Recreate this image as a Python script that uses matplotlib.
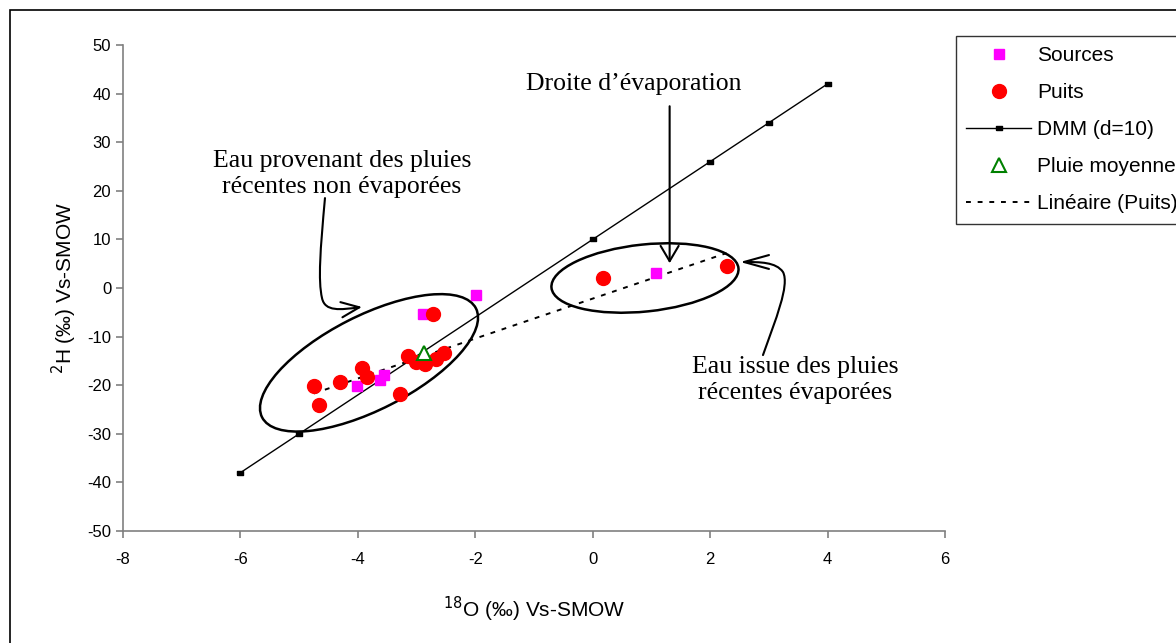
import numpy as np
import matplotlib.pyplot as plt
import matplotlib.transforms as mtransforms
from matplotlib.patches import Ellipse, FancyArrowPatch, Rectangle
from matplotlib.path import Path
from matplotlib.lines import Line2D

# --- donnees ---
src_x = [-1.99, -2.89, -4.02, -3.62, -3.55, 1.07]
src_y = [-1.4, -5.4, -20.2, -18.9, -18.0, 3.1]

puits_x = [-2.72, -4.75, -4.67, -4.30, -3.93, -3.84, -3.29, -3.15, -3.01, -2.86, -2.67, -2.53, 0.17, 2.28]
puits_y = [-5.4, -20.2, -24.1, -19.3, -16.5, -18.4, -21.8, -14.0, -15.2, -15.6, -14.7, -13.3, 2.0, 4.6]

pluie_x = [-2.88]
pluie_y = [-13.3]

dmm_x = [-6, -5, 0, 2, 3, 4]
dmm_y = [-38, -30, 10, 26, 34, 42]

x_ticks = [-8, -6, -4, -2, 0, 2, 4, 6]
y_ticks = [-50, -40, -30, -20, -10, 0, 10, 20, 30, 40, 50]

plt.rcParams['axes.unicode_minus'] = False
sans = ['Liberation Sans', 'DejaVu Sans']
serif = ['Liberation Serif', 'DejaVu Serif']

fig = plt.figure(figsize=(11.76, 6.43), dpi=100)
ax = fig.add_axes([123/1176, 1-531/643, (945-123)/1176, (531-45)/643])

# cadre exterieur (coupe a droite et en bas)
fig.add_artist(Rectangle((10/1176, -0.1), 1.2, 1-10/643+0.1, transform=fig.transFigure,
                         fill=False, edgecolor='black', lw=1.2))

dash_marker = [(-1, -0.55), (1, -0.55), (1, 0.55), (-1, 0.55), (-1, -0.55)]

ax.plot(dmm_x, dmm_y, color='black', lw=1.0, marker=dash_marker, markersize=5, zorder=2)

# droite de regression sur les puits
a, b = np.polyfit(puits_x, puits_y, 1)
fx = np.array([min(puits_x), max(puits_x)])
ax.plot(fx, a*fx + b, color='black', lw=1.4, linestyle=(0, (2.5, 3.5)), zorder=2)

ax.plot(src_x, src_y, linestyle='none', marker='s', markersize=6.5, color='#ff00ff', zorder=3)
ax.plot(puits_x, puits_y, linestyle='none', marker='o', markersize=10, color='#ff0000', zorder=3)
ax.plot(pluie_x, pluie_y, linestyle='none', marker='^', markersize=10, markerfacecolor='white',
        markeredgecolor='#008000', markeredgewidth=1.5, zorder=4)

ax.set_xlim(-8, 6)
ax.set_ylim(-50, 50)
ax.set_xticks(x_ticks)
ax.set_yticks(y_ticks)
for s in ['top', 'right']:
    ax.spines[s].set_visible(False)
for s in ['left', 'bottom']:
    ax.spines[s].set_color('#808080')
    ax.spines[s].set_linewidth(1.2)
ax.tick_params(colors='#808080', labelcolor='black', labelsize=12, length=5, width=1.2)
for lab in ax.get_xticklabels() + ax.get_yticklabels():
    lab.set_family(sans)
ax.tick_params(axis='x', pad=10)

ax.set_xlabel('$^{18}$O (‰) Vs-SMOW', fontsize=15, family=sans, labelpad=20)
ax.set_ylabel('$^{2}$H (‰) Vs-SMOW', fontsize=15, family=sans, labelpad=5.5)

# ellipses (taille en pixels, centre en coordonnees donnees)
def ellipse(cx, cy, w, h, ang):
    tr = mtransforms.Affine2D() + mtransforms.ScaledTranslation(cx, cy, ax.transData)
    e = Ellipse((0, 0), w, h, angle=ang, transform=tr, fill=False, edgecolor='black', lw=1.8, clip_on=False)
    ax.add_patch(e)

ellipse(-3.81, -15.4, 240, 94, 27)
ellipse(0.89, 2.06, 188, 67, 6)

# fleches
ax.annotate('', xy=(1.31, 5.1), xytext=(1.31, 37.4),
            arrowprops=dict(arrowstyle='->,head_length=1.1,head_width=0.65', lw=1.5, color='black',
                            shrinkA=0, shrinkB=0, mutation_scale=10))

p_right = Path([(2.90, -13.8), (3.11, -6.6), (3.36, 0.6), (3.24, 3.3), (3.12, 5.35), (2.85, 5.35), (2.51, 5.35)],
               [Path.MOVETO, Path.CURVE4, Path.CURVE4, Path.CURVE4, Path.CURVE4, Path.CURVE4, Path.CURVE4])
ax.add_patch(FancyArrowPatch(path=p_right, arrowstyle='->,head_length=1.8,head_width=0.5',
                             mutation_scale=10, lw=1.5, color='black'))

p_left = Path([(-4.56, 18.5), (-4.64, 7.8), (-4.68, 1.6), (-4.61, -2.1), (-4.56, -4.9), (-4.30, -4.5), (-3.93, -3.9)],
              [Path.MOVETO, Path.CURVE4, Path.CURVE4, Path.CURVE4, Path.CURVE4, Path.CURVE4, Path.CURVE4])
ax.add_patch(FancyArrowPatch(path=p_left, arrowstyle='->,head_length=1.3,head_width=0.55',
                             mutation_scale=10, lw=1.5, color='black'))

ax.text(0.70, 42.0, 'Droite d\u2019évaporation', fontsize=18.5, family=serif, ha='center', va='center')
ax.text(-4.27, 23.4, 'Eau provenant des pluies\nrécentes non évaporées', fontsize=18.5, family=serif,
        ha='center', va='center', linespacing=1.25)
ax.text(3.45, -18.9, 'Eau issue des pluies\nrécentes évaporées', fontsize=18.5, family=serif,
        ha='center', va='center', linespacing=1.25)

handles = [
    Line2D([], [], linestyle='none', marker='s', markersize=6.5, color='#ff00ff'),
    Line2D([], [], linestyle='none', marker='o', markersize=10, color='#ff0000'),
    Line2D([], [], color='black', lw=1.0, marker=dash_marker, markersize=5),
    Line2D([], [], linestyle='none', marker='^', markersize=10, markerfacecolor='white',
           markeredgecolor='#008000', markeredgewidth=1.5),
    Line2D([], [], color='black', lw=1.4, linestyle=(0, (2.5, 3.5))),
]
labels = ['Sources', 'Puits', 'DMM (d=10)', 'Pluie moyenne', 'Linéaire (Puits)']
leg = fig.legend(handles, labels, loc='upper left', bbox_to_anchor=(956/1176, 1-36/643),
                 prop={'family': sans, 'size': 15}, frameon=True, fancybox=False,
                 edgecolor='black', handlelength=3.1, handletextpad=0.3, labelspacing=0.86,
                 borderpad=0.5, borderaxespad=0)
leg.get_frame().set_linewidth(1.0)

fig.savefig('out.png', dpi=100)
